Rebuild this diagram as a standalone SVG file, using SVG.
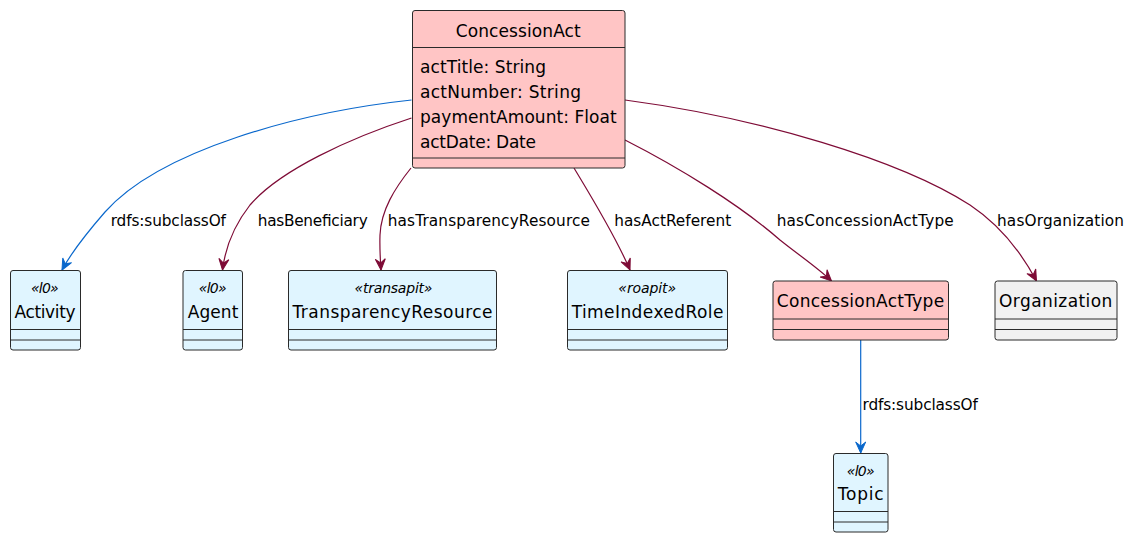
<svg xmlns="http://www.w3.org/2000/svg" width="1132" height="533" viewBox="0 0 1132 533">
<style>
.box{stroke:#2a2a2a;stroke-width:1}
.sep{stroke:#2a2a2a;stroke-width:1}
.blue{fill:#E0F5FF}
.pink{fill:#FFC5C5}
.grey{fill:#F1F1F1}
.name{font-family:"DejaVu Sans",sans-serif;font-size:17px;fill:#000;text-anchor:middle}
.attr{font-family:"DejaVu Sans",sans-serif;font-size:17px;fill:#000}
.st{font-family:"DejaVu Sans",sans-serif;font-size:14px;font-style:italic;fill:#000;text-anchor:middle}
.lbl{font-family:"DejaVu Sans",sans-serif;font-size:15.3px;fill:#000}
.eb{fill:none;stroke:#0A68CC;stroke-width:1.2;marker-end:url(#ab)}
.em{fill:none;stroke:#7E0B36;stroke-width:1.2;marker-end:url(#am)}
</style>
<defs>
<marker id="ab" viewBox="-12 -6 13 12" refX="0" refY="0" markerWidth="13" markerHeight="12" markerUnits="userSpaceOnUse" orient="auto">
<path d="M0,0 L-11,-5 L-7,0 L-11,5 Z" fill="#0A68CC" stroke="#0A68CC" stroke-width="1"/>
</marker>
<marker id="am" viewBox="-12 -6 13 12" refX="0" refY="0" markerWidth="13" markerHeight="12" markerUnits="userSpaceOnUse" orient="auto">
<path d="M0,0 L-11,-5 L-7,0 L-11,5 Z" fill="#7E0B36" stroke="#7E0B36" stroke-width="1"/>
</marker>
</defs>
<rect width="1132" height="533" fill="#FFFFFF"/>

<g id="edges">
<path class="eb" d="M411.5,100 C300,112 160,150 105,212 C85,235 70,255 62,270"/>
<path class="em" d="M411.5,118 C350,138 280,170 250,205 C232,228 225,250 222.5,270"/>
<path class="em" d="M411,168 C395,188 381,210 380,235 C379.5,250 380.5,262 381,270"/>
<path class="em" d="M574,168 C592,198 615,235 630,270"/>
<path class="em" d="M625,140 C680,168 740,205 780,240 C800,256 818,268 831.5,281"/>
<path class="em" d="M625,100 C760,118 900,160 970,205 C1000,225 1020,250 1036.5,281"/>
<path class="eb" d="M860.7,340 L860.7,453"/>
<text class="lbl" x="110.7" y="226" textLength="115.3">rdfs:subclassOf</text>
<text class="lbl" x="257.7" y="226" textLength="110">hasBeneficiary</text>
<text class="lbl" x="387.7" y="226" textLength="202.3">hasTransparencyResource</text>
<text class="lbl" x="614.2" y="226" textLength="117">hasActReferent</text>
<text class="lbl" x="776.7" y="226" textLength="177">hasConcessionActType</text>
<text class="lbl" x="997" y="226" textLength="127">hasOrganization</text>
<text class="lbl" x="862.5" y="409.5" textLength="115.3">rdfs:subclassOf</text>
</g>

<g id="ConcessionAct">
<rect class="box pink" x="412.5" y="10.5" width="212.5" height="157.5" rx="2.5"/>
<line class="sep" x1="412.5" y1="47.5" x2="625" y2="47.5"/>
<line class="sep" x1="412.5" y1="158" x2="625" y2="158"/>
<text class="name" x="518.2" y="36.7" textLength="125">ConcessionAct</text>
<text class="attr" x="420" y="73.3" textLength="126">actTitle: String</text>
<text class="attr" x="420" y="98.3" textLength="161">actNumber: String</text>
<text class="attr" x="420" y="123" textLength="196.7">paymentAmount: Float</text>
<text class="attr" x="420" y="148" textLength="116">actDate: Date</text>
</g>

<g id="Activity">
<rect class="box blue" x="10.5" y="270.5" width="70" height="79.5" rx="2.5"/>
<line class="sep" x1="10.5" y1="329.5" x2="80.5" y2="329.5"/>
<line class="sep" x1="10.5" y1="340" x2="80.5" y2="340"/>
<text class="st" x="44.8" y="293" textLength="27.7">«l0»</text>
<text class="name" x="45" y="317.5" textLength="61">Activity</text>
</g>

<g id="Agent">
<rect class="box blue" x="183" y="270.5" width="59.5" height="79.5" rx="2.5"/>
<line class="sep" x1="183" y1="329.5" x2="242.5" y2="329.5"/>
<line class="sep" x1="183" y1="340" x2="242.5" y2="340"/>
<text class="st" x="212.7" y="293" textLength="27.7">«l0»</text>
<text class="name" x="213" y="317.5" textLength="50.6">Agent</text>
</g>

<g id="TransparencyResource">
<rect class="box blue" x="288.5" y="270.5" width="208" height="79.5" rx="2.5"/>
<line class="sep" x1="288.5" y1="329.5" x2="496.5" y2="329.5"/>
<line class="sep" x1="288.5" y1="340" x2="496.5" y2="340"/>
<text class="st" x="393.5" y="293" textLength="78">«transapit»</text>
<text class="name" x="392.5" y="317.5" textLength="200">TransparencyResource</text>
</g>

<g id="TimeIndexedRole">
<rect class="box blue" x="567.5" y="270.5" width="160" height="79.5" rx="2.5"/>
<line class="sep" x1="567.5" y1="329.5" x2="727.5" y2="329.5"/>
<line class="sep" x1="567.5" y1="340" x2="727.5" y2="340"/>
<text class="st" x="647.2" y="293" textLength="57.7">«roapit»</text>
<text class="name" x="647.5" y="317.5" textLength="151.7">TimeIndexedRole</text>
</g>

<g id="ConcessionActType">
<rect class="box pink" x="773" y="281" width="175.5" height="59" rx="2.5"/>
<line class="sep" x1="773" y1="319" x2="948.5" y2="319"/>
<line class="sep" x1="773" y1="329.5" x2="948.5" y2="329.5"/>
<text class="name" x="860.5" y="306.7" textLength="167.3">ConcessionActType</text>
</g>

<g id="Organization">
<rect class="box grey" x="995" y="281" width="122" height="59" rx="2.5"/>
<line class="sep" x1="995" y1="319" x2="1117" y2="319"/>
<line class="sep" x1="995" y1="329.5" x2="1117" y2="329.5"/>
<text class="name" x="1055.7" y="306.7" textLength="113.3">Organization</text>
</g>

<g id="Topic">
<rect class="box blue" x="833.5" y="453.5" width="54.5" height="78.5" rx="2.5"/>
<line class="sep" x1="833.5" y1="511.5" x2="888" y2="511.5"/>
<line class="sep" x1="833.5" y1="522" x2="888" y2="522"/>
<text class="st" x="860.7" y="475.5" textLength="27.7">«l0»</text>
<text class="name" x="860.7" y="500" textLength="46">Topic</text>
</g>
</svg>
